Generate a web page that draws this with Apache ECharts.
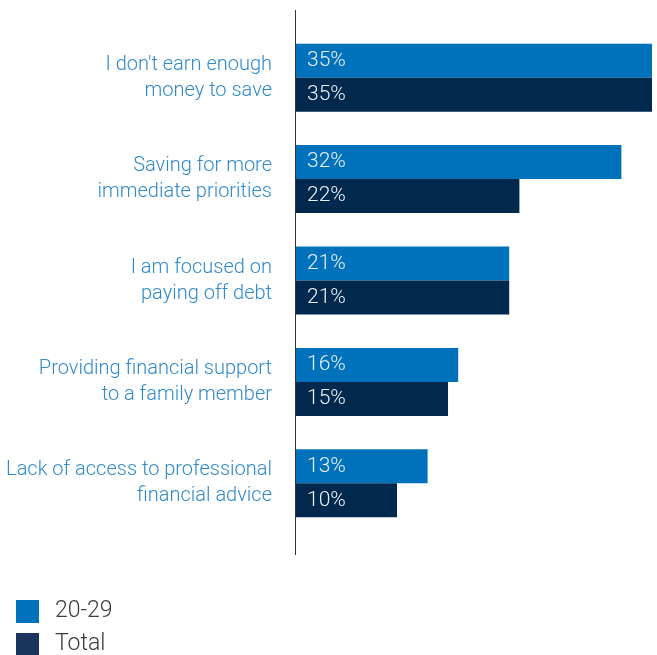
<!DOCTYPE html>
<html>
<head>
<meta charset="utf-8">
<style>
  html, body { margin: 0; padding: 0; background: #ffffff; }
  #chart { width: 657px; height: 655px; }
</style>
<script src="https://cdn.jsdelivr.net/npm/echarts@6/dist/echarts.min.js"></script>
</head>
<body>
<div id="chart"></div>
<script>
// Reasons for not saving, share of respondents (%)
const categories = [
  "I don't earn enough\nmoney to save",
  "Saving for more\nimmediate priorities",
  "I am focused on\npaying off debt",
  "Providing financial support\nto a family member",
  "Lack of access to professional\nfinancial advice"
];
const seriesNames = ["20-29", "Total"];
const age2029 = [35, 32, 21, 16, 13];
const total = [35, 22, 21, 15, 10];

const FONT = "Roboto, 'Noto Sans', sans-serif";
const GRID = { left: 295, right: 5, top: 27, bottom: 121 };

const chart = echarts.init(document.getElementById('chart'), null, { renderer: 'canvas' });

const barLabel = {
  show: true,
  position: 'insideLeft',
  distance: 12,
  formatter: '{c}%',
  color: '#eaf0f7',
  fontFamily: FONT,
  fontWeight: 300,
  fontSize: 21
};

chart.setOption({
  animation: false,
  backgroundColor: '#ffffff',
  grid: GRID,
  xAxis: {
    type: 'value',
    min: 0,
    max: 35,
    show: false
  },
  yAxis: {
    type: 'category',
    data: categories,
    inverse: true,
    axisLine: { show: false },
    axisTick: { show: false },
    axisLabel: {
      color: '#2f8acb',
      fontFamily: FONT,
      fontWeight: 300,
      fontSize: 20,
      lineHeight: 26,
      margin: 23,
      align: 'right'
    }
  },
  legend: {
    orient: 'vertical',
    left: 16,
    top: 600,
    height: 60,
    padding: 0,
    itemWidth: 23,
    itemHeight: 23,
    itemGap: 10,
    icon: 'rect',
    textStyle: {
      color: '#3a3a3a',
      fontFamily: FONT,
      fontWeight: 300,
      fontSize: 23,
      padding: [0, 0, 0, 11]
    },
    data: [
      { name: seriesNames[0], itemStyle: { color: '#0072bc' } },
      { name: seriesNames[1], itemStyle: { color: '#1b355f' } }
    ]
  },
  series: [
    {
      name: seriesNames[0],
      type: 'bar',
      data: age2029,
      barWidth: 34,
      barGap: '0%',
      itemStyle: { color: '#0072bc' },
      label: barLabel
    },
    {
      name: seriesNames[1],
      type: 'bar',
      data: total,
      barWidth: 34,
      barGap: '0%',
      itemStyle: { color: '#00294d' },
      label: barLabel
    }
  ]
});

// Vertical baseline at zero, running a little past the plot area
const x0 = Math.round(chart.convertToPixel({ xAxisIndex: 0 }, 0)) + 0.5;
chart.setOption({
  graphic: [{
    type: 'line',
    silent: true,
    z: 10,
    shape: { x1: x0, y1: 10, x2: x0, y2: 555 },
    style: { stroke: '#333333', lineWidth: 1 }
  }]
});
</script>
</body>
</html>
